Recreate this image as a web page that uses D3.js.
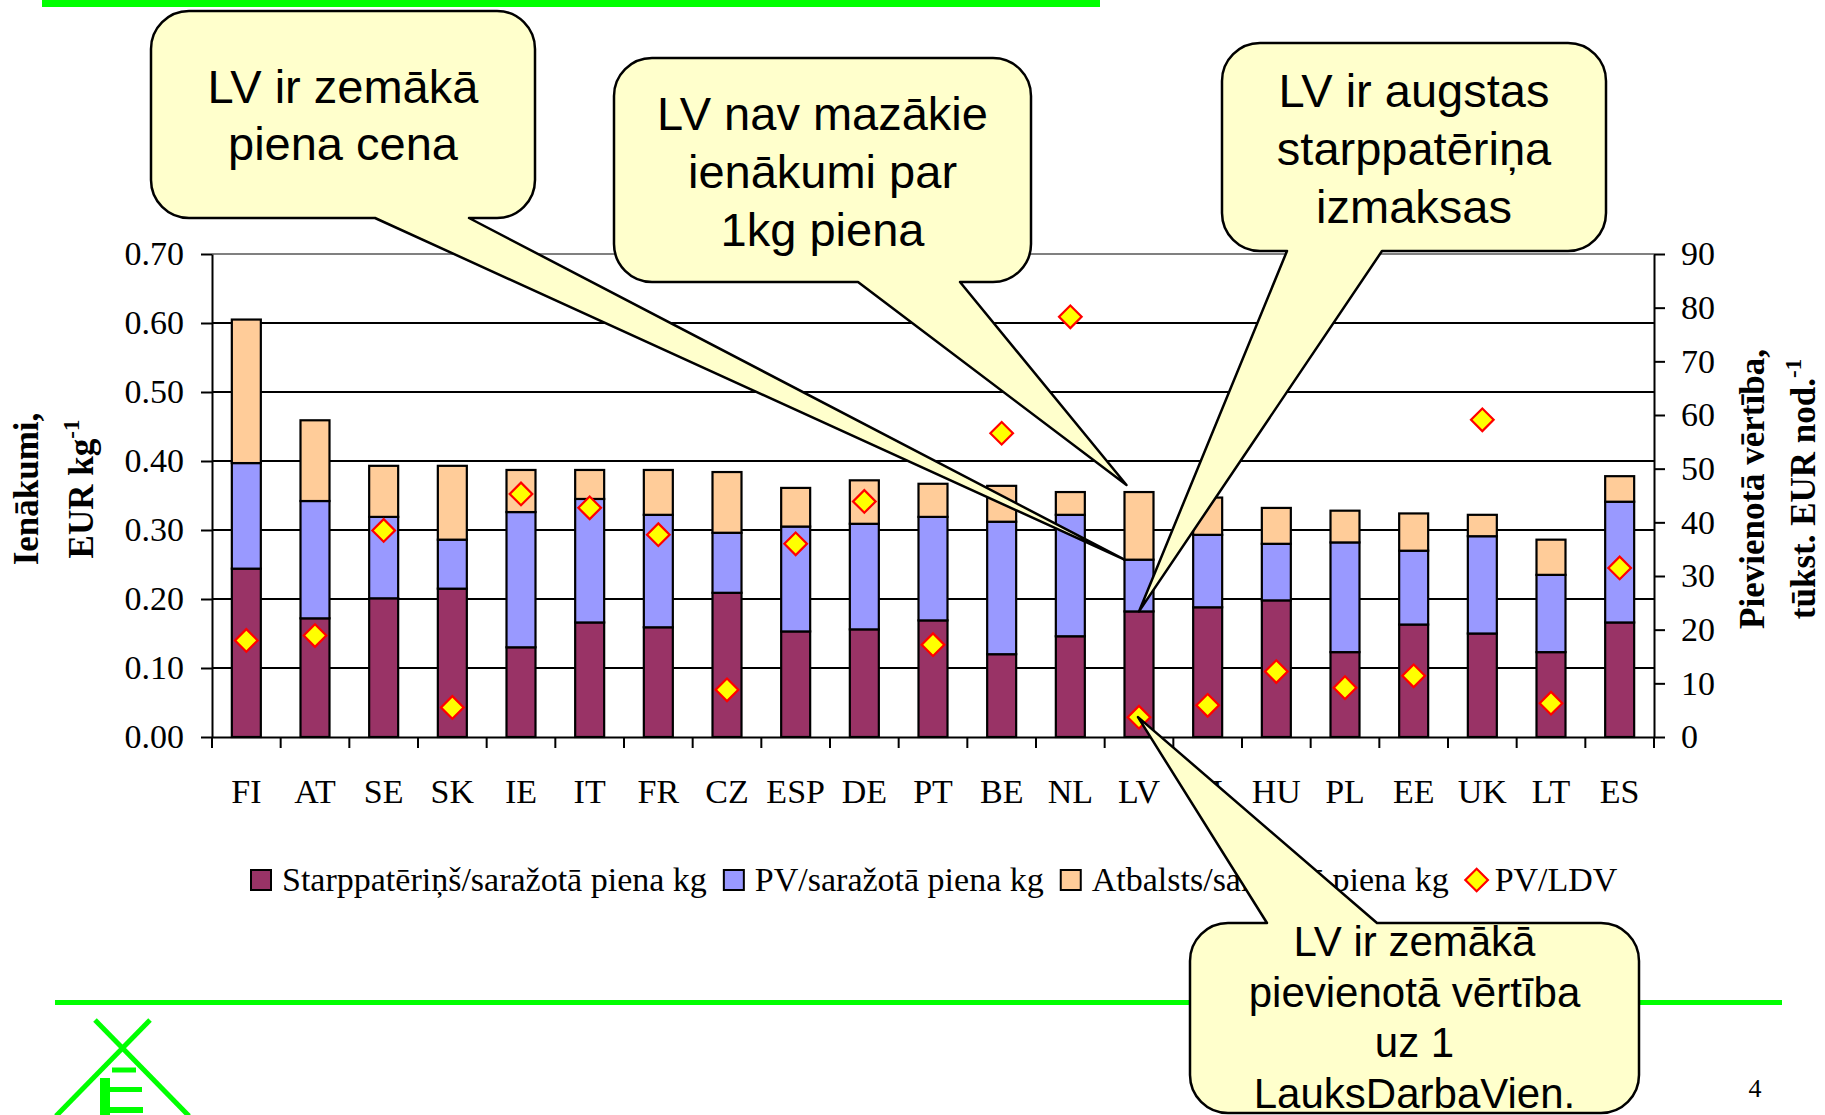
<!DOCTYPE html>
<html>
<head>
<meta charset="utf-8">
<title>Ienākumi par 1 kg piena</title>
<script src="https://d3js.org/d3.v7.min.js"></script>
<style>
  body { margin: 0; background: #fff; }
  svg { display: block; }
  .serif { font-family: "Liberation Serif", "Times New Roman", serif; }
  .sans { font-family: "Liberation Sans", Arial, sans-serif; }
</style>
</head>
<body>
<div id="chart"></div>
<script>
// data (EUR per kg, stacked) + PV/LDV on right axis
const categories = ["FI","AT","SE","SK","IE","IT","FR","CZ","ESP","DE","PT","BE","NL","LV","SI","HU","PL","EE","UK","LT","ES"];
const starppaterins = [0.244,0.172,0.201,0.215,0.130,0.166,0.159,0.209,0.153,0.156,0.169,0.120,0.146,0.182,0.188,0.198,0.123,0.163,0.150,0.123,0.166];
const pvKg          = [0.153,0.170,0.118,0.071,0.196,0.179,0.163,0.087,0.152,0.153,0.150,0.192,0.176,0.075,0.105,0.082,0.159,0.107,0.141,0.112,0.175];
const atbalsts      = [0.208,0.117,0.074,0.107,0.061,0.042,0.065,0.088,0.056,0.063,0.048,0.052,0.033,0.098,0.054,0.052,0.046,0.054,0.031,0.051,0.037];
const pvLdv         = [18.0,18.9,38.5,5.5,45.3,42.7,37.7,8.8,36.0,43.9,17.2,56.6,78.3,3.7,5.9,12.2,9.2,11.4,59.1,6.3,31.5];

const leftTicks = [0,0.1,0.2,0.3,0.4,0.5,0.6,0.7];
const rightTicks = [0,10,20,30,40,50,60,70,80,90];
const seriesNames = ["Starppatēriņš/saražotā piena kg","PV/saražotā piena kg","Atbalsts/saražotā piena kg","PV/LDV"];
const seriesColors = ["#993366","#9999ff","#ffcc99"];

const calloutTexts = [
  ["LV ir zemākā","piena cena"],
  ["LV nav mazākie","ienākumi par","1kg piena"],
  ["LV ir augstas","starppatēriņa","izmaksas"],
  ["LV ir zemākā","pievienotā vērtība","uz 1","LauksDarbaVien."]
];

const width = 1825, height = 1115;
const margin = {top: 254, right: 171, bottom: 378, left: 212};
const plotR = width - margin.right, plotB = height - margin.bottom;

const svg = d3.select("#chart").append("svg")
  .attr("width", width)
  .attr("height", height);

// slide decoration
svg.append("rect").attr("x", 42).attr("y", 0).attr("width", 1058).attr("height", 7).attr("fill", "#00ff00");
svg.append("rect").attr("x", 55).attr("y", 1000).attr("width", 1727).attr("height", 5).attr("fill", "#00ff00");

var logo = svg.append("g").attr("stroke", "#00ff00").attr("stroke-width", 5).attr("fill", "none");
logo.append("line").attr("x1", 95).attr("y1", 1020).attr("x2", 189).attr("y2", 1116);
logo.append("line").attr("x1", 150).attr("y1", 1020).attr("x2", 56).attr("y2", 1116);
logo.append("line").attr("x1", 112).attr("y1", 1070).attr("x2", 136).attr("y2", 1070);
var logoE = svg.append("g").attr("fill", "#00ff00");
logoE.append("rect").attr("x", 100).attr("y", 1078).attr("width", 10).attr("height", 37);
logoE.append("rect").attr("x", 100).attr("y", 1087).attr("width", 42).attr("height", 5);
logoE.append("rect").attr("x", 100).attr("y", 1107).attr("width", 43).attr("height", 6);

svg.append("text").attr("class", "serif")
  .attr("x", 1755).attr("y", 1097)
  .attr("text-anchor", "middle")
  .style("font-size", "26px")
  .text("4");

// scales
var x = d3.scaleBand().domain(categories).range([margin.left, plotR]).padding(0);
var y = d3.scaleLinear().domain([0, 0.7]).range([plotB, margin.top]);
var y2 = d3.scaleLinear().domain([0, 90]).range([plotB, margin.top]);
const barW = 29;

// gridlines
svg.append("g").selectAll("line")
  .data(leftTicks.slice(1))
  .enter().append("line")
  .attr("x1", margin.left).attr("x2", plotR)
  .attr("y1", d => y(d)).attr("y2", d => y(d))
  .attr("stroke", d => d === 0.7 ? "#808080" : "#000")
  .attr("stroke-width", 2);

// stacked bars
var rows = categories.map((c, i) => ({cat: c, a: starppaterins[i], b: pvKg[i], c: atbalsts[i]}));
var stacked = d3.stack().keys(["a","b","c"])(rows);

svg.append("g").selectAll("g")
  .data(stacked)
  .enter().append("g")
  .attr("fill", (d, i) => seriesColors[i])
  .selectAll("rect")
  .data(d => d)
  .enter().append("rect")
  .attr("x", d => x(d.data.cat) + (x.bandwidth() - barW) / 2)
  .attr("width", barW)
  .attr("y", d => y(d[1]))
  .attr("height", d => y(d[0]) - y(d[1]))
  .attr("stroke", "#000")
  .attr("stroke-width", 2.2);

// axes
function styleAxis(g, size) {
  g.select(".domain").attr("stroke", "#000").attr("stroke-width", 2);
  g.selectAll(".tick line").attr("stroke", "#000").attr("stroke-width", 2);
  g.selectAll("text").attr("class", "serif").attr("fill", "#000").style("font-size", size + "px");
}

svg.append("g")
  .attr("transform", "translate(" + margin.left + ",0)")
  .call(d3.axisLeft(y).tickValues(leftTicks).tickFormat(d3.format(".2f")).tickSize(11).tickSizeOuter(0).tickPadding(17))
  .call(g => { g.attr("font-family", null).attr("font-size", null); styleAxis(g, 34); });

svg.append("g")
  .attr("transform", "translate(" + plotR + ",0)")
  .call(d3.axisRight(y2).tickValues(rightTicks).tickSize(11).tickSizeOuter(0).tickPadding(16))
  .call(g => { g.attr("font-family", null).attr("font-size", null); styleAxis(g, 34); });

svg.append("g")
  .attr("transform", "translate(0," + plotB + ")")
  .call(d3.axisBottom(x).tickSize(0).tickSizeOuter(0).tickPadding(42))
  .call(g => { g.attr("font-family", null).attr("font-size", null); styleAxis(g, 34); });

// category separators below the axis
svg.append("g").selectAll("line")
  .data(d3.range(categories.length + 1))
  .enter().append("line")
  .attr("x1", i => margin.left + i * x.step()).attr("x2", i => margin.left + i * x.step())
  .attr("y1", plotB).attr("y2", plotB + 11)
  .attr("stroke", "#000").attr("stroke-width", 2);

// PV/LDV diamonds
var diamond = d3.symbol(d3.symbolSquare, 16 * 16)();
svg.append("g").selectAll("path")
  .data(pvLdv)
  .enter().append("path")
  .attr("d", diamond)
  .attr("transform", (d, i) => "translate(" + (x(categories[i]) + x.bandwidth() / 2) + "," + y2(d) + ") rotate(45)")
  .attr("fill", "#ffff00")
  .attr("stroke", "#ff0000")
  .attr("stroke-width", 2.2);

// axis titles
var lt = svg.append("g").attr("class", "serif").style("font-weight", "bold").style("font-size", "35px").attr("text-anchor", "middle");
lt.append("text").attr("transform", "translate(38,489) rotate(-90)").text("Ienākumi,");
var lt2 = lt.append("text").attr("transform", "translate(93,489) rotate(-90)");
lt2.append("tspan").text("EUR kg");
lt2.append("tspan").attr("dy", -14).style("font-size", "23px").text("-1");

var rt = svg.append("g").attr("class", "serif").style("font-weight", "bold").style("font-size", "35px").attr("text-anchor", "middle");
rt.append("text").attr("transform", "translate(1764,489) rotate(-90)").text("Pievienotā vērtība,");
var rt2 = rt.append("text").attr("transform", "translate(1815,489) rotate(-90)");
rt2.append("tspan").text("tūkst. EUR nod.");
rt2.append("tspan").attr("dy", -14).style("font-size", "23px").text("-1");

// legend
var legend = svg.append("g").attr("class", "serif").style("font-size", "34px");
var lx = 251, ly = 880;
seriesNames.forEach(function(name, i) {
  if (i < 3) {
    legend.append("rect").attr("x", lx).attr("y", ly - 10).attr("width", 20).attr("height", 20)
      .attr("fill", seriesColors[i]).attr("stroke", "#000").attr("stroke-width", 2);
  } else {
    legend.append("path").attr("d", diamond)
      .attr("transform", "translate(" + (lx + 11) + "," + ly + ") rotate(45)")
      .attr("fill", "#ffff00").attr("stroke", "#ff0000").attr("stroke-width", 2.2);
  }
  var t = legend.append("text").attr("x", lx + (i < 3 ? 31 : 29)).attr("y", ly + 11).text(name);
  lx = lx + (i < 3 ? 31 : 29) + t.node().getComputedTextLength() + 17;
});

// callouts
var lvBand = x("LV"), lvI = categories.indexOf("LV");
var lvLeft = lvBand + (x.bandwidth() - barW) / 2, lvMid = lvBand + x.bandwidth() / 2;
var callouts = [
  {box: [151, 11, 535, 218], side: "bottom", base: [375, 469], tip: [lvLeft, y(starppaterins[lvI] + pvKg[lvI])], fs: 47, first: 103, gap: 57},
  {box: [614, 58, 1031, 282], side: "bottom", base: [858, 960], tip: [lvLeft + 2, y(starppaterins[lvI] + pvKg[lvI] + atbalsts[lvI]) - 7], fs: 47, first: 130, gap: 58},
  {box: [1222, 43, 1606, 251], side: "bottom", base: [1287, 1382], tip: [lvMid, y(starppaterins[lvI])], fs: 47, first: 107, gap: 58},
  {box: [1190, 923, 1639, 1113], side: "top", base: [1267, 1377], tip: [lvMid - 1, y2(pvLdv[lvI])], fs: 42, first: 956, gap: 50.5}
];

function calloutPath(c) {
  var x0 = c.box[0], y0 = c.box[1], x1 = c.box[2], y1 = c.box[3], r = 38;
  var p = d3.path();
  p.moveTo(x0 + r, y0);
  if (c.side === "top") {
    p.lineTo(c.base[0], y0); p.lineTo(c.tip[0], c.tip[1]); p.lineTo(c.base[1], y0);
  }
  p.lineTo(x1 - r, y0);
  p.arcTo(x1, y0, x1, y0 + r, r);
  p.lineTo(x1, y1 - r);
  p.arcTo(x1, y1, x1 - r, y1, r);
  if (c.side === "bottom") {
    p.lineTo(c.base[1], y1); p.lineTo(c.tip[0], c.tip[1]); p.lineTo(c.base[0], y1);
  }
  p.lineTo(x0 + r, y1);
  p.arcTo(x0, y1, x0, y1 - r, r);
  p.lineTo(x0, y0 + r);
  p.arcTo(x0, y0, x0 + r, y0, r);
  p.closePath();
  return p.toString();
}

callouts.forEach(function(c, k) {
  var g = svg.append("g");
  g.append("path").attr("d", calloutPath(c))
    .attr("fill", "#ffffcc").attr("stroke", "#000").attr("stroke-width", 2.5)
    .attr("stroke-linejoin", "round");
  g.selectAll("text")
    .data(calloutTexts[k])
    .enter().append("text")
    .attr("class", "sans")
    .attr("x", (c.box[0] + c.box[2]) / 2)
    .attr("y", (d, i) => c.first + i * c.gap)
    .attr("text-anchor", "middle")
    .style("font-size", c.fs + "px")
    .text(d => d);
});
</script>
</body>
</html>
